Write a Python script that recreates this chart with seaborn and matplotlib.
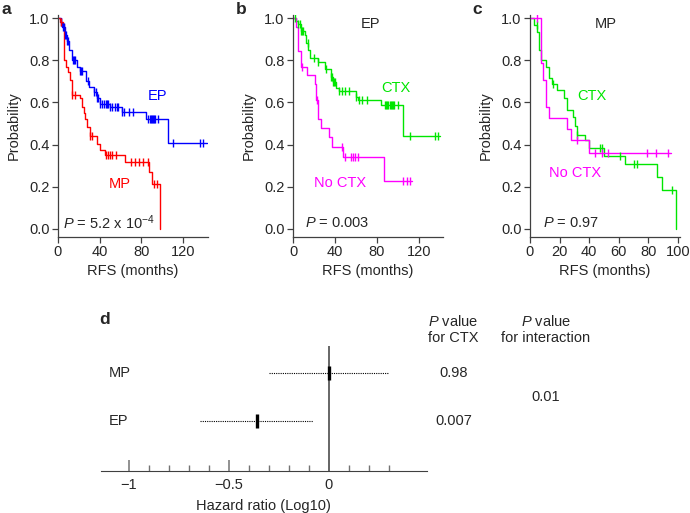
import numpy as np
import pandas as pd
import seaborn as sns
import matplotlib.pyplot as plt
from matplotlib.ticker import FixedLocator

sns.set_style("ticks")
plt.rcParams['font.family'] = ['Liberation Sans', 'DejaVu Sans']
plt.rcParams['mathtext.fontset'] = 'custom'
plt.rcParams['mathtext.rm'] = 'Liberation Sans'
plt.rcParams['mathtext.it'] = 'Liberation Sans:italic'
plt.rcParams['axes.unicode_minus'] = True

# ---- panel a : EP vs MP ----
a_ep_t = [0, 3, 4, 7, 9, 11, 13, 18, 21, 27, 30, 35, 37, 40, 50, 61, 84, 106]
a_ep_s = [1.0, 0.98, 0.96, 0.92, 0.89, 0.85, 0.80, 0.77, 0.75, 0.70, 0.675, 0.65, 0.62, 0.595, 0.58, 0.556, 0.52, 0.41]
a_ep_end = 143
a_ep_cens = [3, 5, 6, 7, 8, 9, 10, 14, 15, 16, 21, 22, 23, 29, 35, 36, 37, 38, 40, 42, 44, 46, 47,
             48, 50, 52, 55, 57, 58, 61, 63, 68, 72, 86, 88, 89, 90, 91, 92, 93, 96, 110, 136, 139]

a_mp_t = [0, 2, 5, 6, 8, 10, 11.5, 13, 21, 23, 24.5, 26, 28, 30.5, 37, 40, 45, 64, 87, 90, 98]
a_mp_s = [1.0, 0.98, 0.97, 0.80, 0.77, 0.745, 0.705, 0.635, 0.62, 0.58, 0.55, 0.52, 0.485, 0.44,
          0.405, 0.375, 0.35, 0.32, 0.27, 0.215, 0.0]
a_mp_end = 98
a_mp_cens = [3, 13, 16, 31, 33, 46, 48, 50, 52, 56, 70, 74, 78, 82, 86, 92, 95]

# ---- panel b : EP, CTX vs no CTX ----
b_ctx_t = [0, 3, 5, 8, 11, 12.5, 14.5, 16, 24, 30.5, 36, 38, 41, 44, 60, 62, 84, 105]
b_ctx_s = [1.0, 0.985, 0.97, 0.94, 0.92, 0.88, 0.85, 0.81, 0.79, 0.76, 0.72, 0.695, 0.67, 0.655,
           0.627, 0.61, 0.59, 0.443]
b_ctx_end = 140
b_ctx_cens = [2, 5, 7, 8, 9, 10, 14, 20, 24, 31, 36, 37, 38, 39, 40, 44, 47, 50, 53, 60, 63, 66, 71,
              88, 89, 90, 91, 92, 93, 94, 95, 96, 100, 112, 135, 138]

b_no_t = [0, 3, 5, 8, 13.5, 21, 22, 24, 27, 34, 37, 48, 87]
b_no_s = [1.0, 0.96, 0.845, 0.77, 0.73, 0.69, 0.61, 0.52, 0.48, 0.435, 0.39, 0.34, 0.227]
b_no_end = 113
b_no_cens = [9, 23, 47, 50, 55, 57, 59, 62, 105, 109, 112]

# ---- panel c : MP, CTX vs no CTX ----
c_ctx_t = [0, 3, 5, 6, 7.5, 11, 13, 15, 18, 23, 25, 29, 30.5, 31.5, 37, 40, 50, 64, 86, 89, 98.5]
c_ctx_s = [1.0, 0.967, 0.935, 0.85, 0.80, 0.77, 0.715, 0.69, 0.66, 0.62, 0.565, 0.533, 0.49, 0.448,
           0.42, 0.384, 0.348, 0.308, 0.245, 0.185, 0.0]
c_ctx_end = 98.5
c_ctx_cens = [4.5, 15.5, 32, 47, 49, 61, 70, 72, 96]

c_no_t = [0, 7.4, 9, 10.6, 12.8, 25.3, 27.7, 40]
c_no_s = [1.0, 0.785, 0.705, 0.58, 0.527, 0.476, 0.42, 0.36]
c_no_end = 95
c_no_cens = [5, 32, 44, 49, 53, 79, 85, 93]

# ---- panel d : forest plot ----
d_groups = ['MP', 'EP']
d_hr = [0.0, -0.357]
d_lo = [-0.30, -0.645]
d_hi = [0.30, -0.08]
d_p_ctx = ['0.98', '0.007']
d_p_inter = '0.01'

BLUE, RED, GREEN, MAG = '#0000ff', '#ff0000', '#00e600', '#ff00ff'
AXC = '0.25'
FS = 10.5


def km(ax, t, s, end, cens, color):
    t = np.asarray(t, float)
    s = np.asarray(s, float)
    tt = np.append(t, end) if end > t[-1] else t
    ss = np.append(s, s[-1]) if end > t[-1] else s
    df = pd.DataFrame({'t': tt, 's': ss})
    sns.lineplot(data=df, x='t', y='s', ax=ax, color=color, lw=1.0,
                 drawstyle='steps-post', estimator=None, sort=False)
    c = np.asarray(cens, float)
    cs = s[np.searchsorted(t, c, side='right') - 1]
    sns.scatterplot(x=c, y=cs, ax=ax, marker='|', color=color, s=28, linewidth=1.0, zorder=3)


def style_km(ax, xmax, xticks):
    ax.set_xlim(0, xmax)
    ax.set_ylim(-0.038, 1.015)
    ax.set_xticks(xticks)
    ax.set_yticks(np.arange(0, 1.01, 0.2))
    ax.set_yticklabels(['%.1f' % v for v in np.arange(0, 1.01, 0.2)])
    ax.set_xlabel('RFS (months)', fontsize=FS, labelpad=3)
    ax.set_ylabel('Probability', fontsize=FS, labelpad=6)
    ax.tick_params(labelsize=FS, length=4, width=0.9, color=AXC, pad=2)
    for sp in ['top', 'right']:
        ax.spines[sp].set_visible(False)
    for sp in ['left', 'bottom']:
        ax.spines[sp].set_color(AXC)
        ax.spines[sp].set_linewidth(0.9)


fig = plt.figure(figsize=(6.9, 5.13), dpi=100)
H = 513.0
W = 690.0

ax_a = fig.add_axes([58 / W, 1 - 237 / H, 150 / W, 222 / H])
km(ax_a, a_ep_t, a_ep_s, a_ep_end, a_ep_cens, BLUE)
km(ax_a, a_mp_t, a_mp_s, a_mp_end, a_mp_cens, RED)
style_km(ax_a, 144, [0, 40, 80, 120])
ax_a.text(86, 0.63, 'EP', color=BLUE, fontsize=FS, va='center')
ax_a.text(49, 0.215, 'MP', color=RED, fontsize=FS, va='center')
ax_a.text(5, 0.03, r'$P$ = 5.2 x 10$^{-4}$', fontsize=FS, va='center')

ax_b = fig.add_axes([293 / W, 1 - 237 / H, 150 / W, 222 / H])
km(ax_b, b_ctx_t, b_ctx_s, b_ctx_end, b_ctx_cens, GREEN)
km(ax_b, b_no_t, b_no_s, b_no_end, b_no_cens, MAG)
style_km(ax_b, 143, [0, 40, 80, 120])
ax_b.text(65, 0.97, 'EP', fontsize=FS, va='center')
ax_b.text(84, 0.67, 'CTX', color=GREEN, fontsize=FS, va='center')
ax_b.text(20, 0.22, 'No CTX', color=MAG, fontsize=FS, va='center')
ax_b.text(11, 0.03, r'$P$ = 0.003', fontsize=FS, va='center')

ax_c = fig.add_axes([530 / W, 1 - 237 / H, 150 / W, 222 / H])
km(ax_c, c_ctx_t, c_ctx_s, c_ctx_end, c_ctx_cens, GREEN)
km(ax_c, c_no_t, c_no_s, c_no_end, c_no_cens, MAG)
style_km(ax_c, 101.4, [0, 20, 40, 60, 80, 100])
ax_c.text(44, 0.97, 'MP', fontsize=FS, va='center')
ax_c.text(32, 0.63, 'CTX', color=GREEN, fontsize=FS, va='center')
ax_c.text(13, 0.265, 'No CTX', color=MAG, fontsize=FS, va='center')
ax_c.text(9, 0.03, r'$P$ = 0.97', fontsize=FS, va='center')

for lab, x in [('a', 1), ('b', 236), ('c', 472)]:
    fig.text(x / W, 1 - 10 / H, lab, fontsize=12.5, fontweight='bold', va='center')

# forest plot
ax_d = fig.add_axes([100.7 / W, 1 - 470.7 / H, 326 / W, 130.7 / H])
ypos = np.arange(len(d_groups))[::-1].astype(float)
ax_d.hlines(ypos, d_lo, d_hi, color='black', lw=0.8, linestyles=(0, (1, 1)))
ax_d.vlines(0, -1.06, 1.58, color='0.4', lw=1.4)
sns.scatterplot(x=d_hr, y=ypos, ax=ax_d, marker='|', color='black', s=90, linewidth=2.4, zorder=4)
ax_d.set_xlim(-1.14, 0.49)
ax_d.set_ylim(-1.055, 1.70)
ax_d.set_yticks([])
ax_d.set_xticks([-1, -0.5, 0])
ax_d.set_xticklabels(['\u22121', '\u22120.5', '0'], fontsize=FS)
ax_d.xaxis.set_minor_locator(FixedLocator([-0.9, -0.8, -0.7, -0.6, -0.4, -0.3, -0.2, -0.1,
                                           0.1, 0.2, 0.3]))
ax_d.tick_params(axis='x', which='major', direction='in', length=8, width=1.1, color='0.45', pad=5)
ax_d.tick_params(axis='x', which='minor', direction='in', length=4.5, width=1.0, color='0.45')
for sp in ['top', 'right', 'left']:
    ax_d.spines[sp].set_visible(False)
ax_d.spines['bottom'].set_color('0.25')
ax_d.set_xlabel('Hazard ratio (Log10)', fontsize=FS, labelpad=5)
for g, y, p in zip(d_groups, ypos, d_p_ctx):
    ax_d.text(-1.10, y, g, fontsize=FS, va='center', ha='left')
    ax_d.text(0.625, y, p, fontsize=FS, va='center', ha='center', clip_on=False)
ax_d.text(1.085, 0.49, d_p_inter, fontsize=FS, va='center', ha='center', clip_on=False)

fig.text(453 / W, 1 - 322 / H, r'$P$ value', fontsize=FS, ha='center', va='center')
fig.text(453 / W, 1 - 337.5 / H, 'for CTX', fontsize=FS, ha='center', va='center')
fig.text(546 / W, 1 - 322 / H, r'$P$ value', fontsize=FS, ha='center', va='center')
fig.text(546 / W, 1 - 337.5 / H, 'for interaction', fontsize=FS, ha='center', va='center')
fig.text(99 / W, 1 - 320 / H, 'd', fontsize=12.5, fontweight='bold', va='center')

fig.savefig('out.png', dpi=100)
